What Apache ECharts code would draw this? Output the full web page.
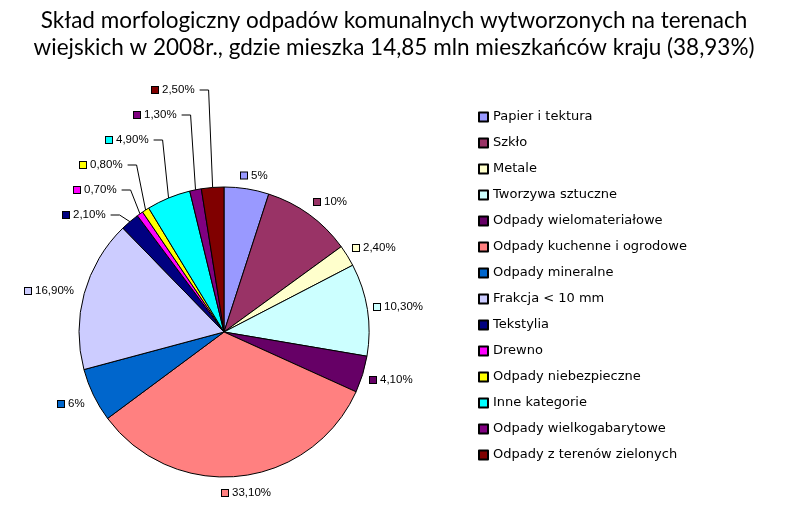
<!DOCTYPE html>
<html><head><meta charset="utf-8">
<script src="https://cdn.jsdelivr.net/npm/echarts@6/dist/echarts.min.js"></script>
<style>html,body{margin:0;padding:0;background:#fff}#c{width:788px;height:527px}</style>
</head><body><div id="c"></div>
<script>
const titleLines = ['Skład morfologiczny odpadów komunalnych wytworzonych na terenach', 'wiejskich w 2008r., gdzie mieszka 14,85 mln mieszkańców kraju (38,93%)'];
const categories = ['Papier i tektura','Szkło','Metale','Tworzywa sztuczne','Odpady wielomateriałowe','Odpady kuchenne i ogrodowe','Odpady mineralne','Frakcja < 10 mm','Tekstylia','Drewno','Odpady niebezpieczne','Inne kategorie','Odpady wielkogabarytowe','Odpady z terenów zielonych'];
const values = [5, 10, 2.4, 10.3, 4.1, 33.1, 6, 16.9, 2.1, 0.7, 0.8, 4.9, 1.3, 2.5];
const colors = ['#9999FF','#993366','#FFFFCC','#CCFFFF','#660066','#FF8080','#0066CC','#CCCCFF','#000080','#FF00FF','#FFFF00','#00FFFF','#800080','#800000'];
// label placement (layout only): left edge x, vertical middle y
const labelPos = [[241,175.5],[314,202],[353,248],[374,307],[370,380],[222,493],[58,404],[25,291],[63,215],[74,190],[80,165],[106,140],[134,115],[152,90]];
const leaderIdx = [8, 9, 10, 11, 12, 13];

function fmt(v) {
  return (Number.isInteger(v) ? String(v) : v.toFixed(2).replace('.', ',')) + '%';
}
const rich = { t: { fontFamily: 'Liberation Sans', fontSize: 11.5, color: '#000', padding: [0, 0, 0, 4] } };
colors.forEach((c, i) => {
  rich['m' + i] = { width: 6, height: 6, backgroundColor: c, borderColor: '#000', borderWidth: 1 };
});

const chart = echarts.init(document.getElementById('c'));
chart.setOption({
  backgroundColor: '#fff',
  animation: false,
  title: {
    text: titleLines.join('\n'),
    left: 'center',
    top: 2,
    padding: [5, 5, 5, 19],
    textStyle: { fontFamily: 'Lato', fontSize: 22.5, fontWeight: 'normal', color: '#000', lineHeight: 27 }
  },
  legend: {
    orient: 'vertical', left: 473, top: 104, itemWidth: 9, itemHeight: 9, itemGap: 10,
    icon: 'rect', selectedMode: false,
    textStyle: { fontFamily: 'DejaVu Sans', fontSize: 13, color: '#000', lineHeight: 16 },
    data: categories
  },
  series: [{
    type: 'pie',
    center: [224, 332],
    radius: 145,
    startAngle: 90,
    clockwise: true,
    avoidLabelOverlap: false,
    itemStyle: { borderColor: '#000', borderWidth: 1 },
    emphasis: { disabled: true },
    label: {
      show: true, position: 'outside',
      formatter: p => '{m' + p.dataIndex + '|}{t|' + fmt(p.value) + '}',
      rich: rich
    },
    labelLine: { show: false, length: 10, length2: 10, lineStyle: { color: '#000', width: 1 } },
    labelLayout: function (p) {
      const pos = labelPos[p.dataIndex];
      const out = { x: pos[0], y: pos[1], align: 'left', verticalAlign: 'middle' };
      if (p.labelLinePoints) {
        const a = p.labelLinePoints[0];
        const r = pos[0] + p.labelRect.width;
        out.labelLinePoints = [[a[0], a[1]], [r + 13, pos[1]], [r + 4, pos[1]]];
      }
      return out;
    },
    data: categories.map((n, i) => {
      const d = { name: n, value: values[i], itemStyle: { color: colors[i] } };
      if (leaderIdx.indexOf(i) >= 0) d.labelLine = { show: true };
      return d;
    })
  }]
});
</script></body></html>
